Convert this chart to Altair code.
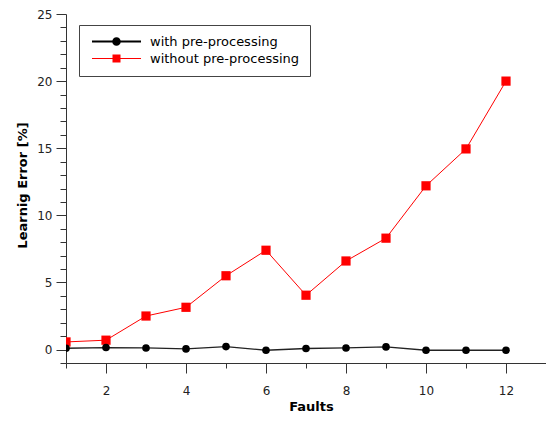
import altair as alt
import pandas as pd

faults = [1, 2, 3, 4, 5, 6, 7, 8, 9, 10, 11, 12]
with_pre = [0.1, 0.15, 0.12, 0.05, 0.22, -0.05, 0.08, 0.12, 0.2, -0.05, -0.05, -0.05]
without_pre = [0.57, 0.7, 2.5, 3.15, 5.5, 7.4, 4.05, 6.6, 8.3, 12.2, 14.95, 20.0]
series_names = ["with pre-processing", "without pre-processing"]

df = pd.DataFrame({
    "Faults": faults * 2,
    "Error": with_pre + without_pre,
    "series": [series_names[0]] * len(faults) + [series_names[1]] * len(faults),
})

FONT = "DejaVu Sans"
x_vals = [1 + 0.5 * i for i in range(25)]
y_vals = list(range(-1, 26))

xs = alt.Scale(domain=[1, 13], nice=False, zero=False)
ys = alt.Scale(domain=[-1, 25], nice=False, zero=False)

x_axis = alt.Axis(
    values=x_vals, tickCount=500, format="d", grid=False, title="Faults",
    labelExpr="datum.value % 2 === 0 ? datum.label : ''",
    tickSize={"condition": {"test": "datum.value % 2 === 0", "value": 10}, "value": 5},
    labelPadding=12, labelFont=FONT, labelFontSize=12, labelColor="#222",
    titleFont=FONT, titleFontSize=13, titleFontWeight="bold", titleColor="#000",
    titleX=245, titleY=43, titleBaseline="middle",
    domainColor="#333", tickColor="#333", labelFlush=False, labelOverlap=False,
)
y_axis = alt.Axis(
    values=y_vals, tickCount=500, format="d", grid=False, title="Learnig Error [%]",
    labelExpr="datum.value % 5 === 0 ? datum.label : ''",
    tickSize={"condition": {"test": "datum.value % 5 === 0", "value": 10}, "value": 6},
    labelPadding=4, labelFont=FONT, labelFontSize=12, labelColor="#222",
    titleFont=FONT, titleFontSize=13, titleFontWeight="bold", titleColor="#000",
    titleX=-44, titleY=171, titleBaseline="middle",
    domainColor="#333", tickColor="#333", labelFlush=False, labelOverlap=False,
)

base = alt.Chart(df)
x_enc = alt.X("Faults:Q", scale=xs, axis=x_axis)
y_enc = alt.Y("Error:Q", scale=ys, axis=y_axis)

red = base.transform_filter(alt.datum.series == series_names[1])
black = base.transform_filter(alt.datum.series == series_names[0])

red_line = red.mark_line(color="#ff0000", strokeWidth=1, clip=True).encode(x=x_enc, y=y_enc)
red_pts = red.mark_square(color="#ff0000", size=85, opacity=1, clip=True).encode(x="Faults:Q", y="Error:Q")
black_line = black.mark_line(color="#222", strokeWidth=1.3, clip=True).encode(x="Faults:Q", y="Error:Q")
black_pts = black.mark_circle(color="#000", size=58, opacity=1, clip=True).encode(x="Faults:Q", y="Error:Q")

circle_path = ("M-4.9,-0.2H4.9V0.2H-4.9Z "
               "M0.86,0A0.86,0.86 0 1 1 -0.86,0A0.86,0.86 0 1 1 0.86,0Z")
square_path = ("M-4.9,-0.1H4.9V0.1H-4.9Z "
               "M-0.8,-0.8H0.8V0.8H-0.8Z")

leg = alt.Legend(
    title=None, orient="none", legendX=13, legendY=11,
    symbolSize=100, symbolOpacity=1, symbolStrokeWidth=0,
    symbolOffset=21, labelOffset=27, padding=10, rowPadding=3,
    labelFont=FONT, labelFontSize=13, labelColor="#000",
    labelExpr="datum.label + '\u00a0\u00a0\u00a0'",
    strokeColor="#444", fillColor="white",
)
legend_layer = base.mark_point(filled=True, opacity=0).encode(
    x="Faults:Q", y="Error:Q",
    color=alt.Color("series:N", scale=alt.Scale(domain=series_names, range=["#000000", "#ff0000"]), legend=leg),
    shape=alt.Shape("series:N", scale=alt.Scale(domain=series_names, range=[circle_path, square_path]), legend=leg),
)

chart = alt.layer(red_line, red_pts, black_line, black_pts, legend_layer).properties(
    width=480, height=349,
    autosize=alt.AutoSizeParams(type="none"),
    padding={"left": 58, "top": 6, "right": 0, "bottom": 50},
    background="white",
).configure_view(stroke=None)

chart.save("out.html", embed_options={"renderer": "svg", "actions": False})
